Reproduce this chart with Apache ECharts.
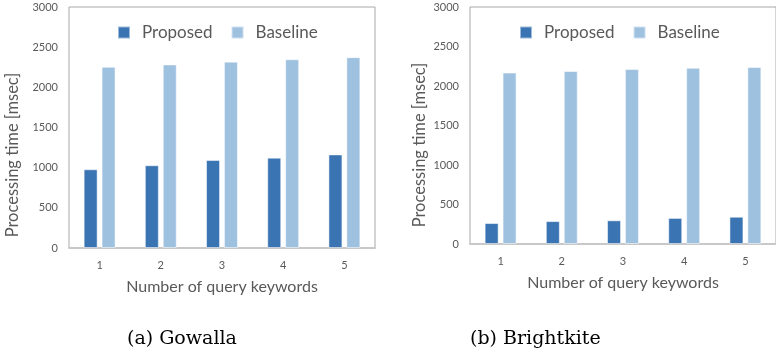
<!DOCTYPE html>
<html>
<head>
<meta charset="utf-8">
<script src="https://cdn.jsdelivr.net/npm/echarts@6/dist/echarts.min.js"></script>
<style>html,body{margin:0;padding:0;background:#fff;}#c{width:776px;height:362px;}</style>
</head>
<body>
<div id="c"></div>
<script>
var categories = ['1', '2', '3', '4', '5'];
var gowallaProposed = [980, 1030, 1095, 1125, 1165];
var gowallaBaseline = [2255, 2285, 2320, 2350, 2375];
var brightkiteProposed = [265, 290, 300, 330, 345];
var brightkiteBaseline = [2170, 2190, 2215, 2230, 2240];
var yTicks = [0, 500, 1000, 1500, 2000, 2500, 3000];
var seriesNames = ['Proposed', 'Baseline'];
var captions = ['(a) Gowalla', '(b) Brightkite'];
var xTitle = 'Number of query keywords';
var yTitle = 'Processing time [msec]';

var FONT = 'Lato';
var TXT = '#595959';
var C1 = '#3a74b3';
var C2 = '#9fc1e0';

function xAx(gi) {
  return {
    type: 'category', gridIndex: gi, data: categories,
    axisLine: {show: true, lineStyle: {color: '#c8c8c8', width: 2}},
    axisTick: {show: false},
    axisLabel: {fontFamily: FONT, fontSize: 11, color: TXT, margin: 12},
    name: xTitle, nameLocation: 'middle', nameGap: 31,
    nameTextStyle: {fontFamily: FONT, fontSize: 16, color: TXT}
  };
}
function yAx(gi) {
  return {
    type: 'value', gridIndex: gi, min: yTicks[0], max: yTicks[yTicks.length - 1], interval: 500,
    axisLine: {show: false}, axisTick: {show: false}, splitLine: {show: false},
    axisLabel: {fontFamily: FONT, fontSize: 11, color: TXT, margin: 11,
      formatter: function (v) { return String(v); }}
  };
}
function bar(name, data, gi, color) {
  return {
    name: name, type: 'bar', xAxisIndex: gi, yAxisIndex: gi, data: data,
    barWidth: 14, barGap: '28%',
    itemStyle: {color: color, borderColor: 'rgba(255,255,255,0.5)', borderWidth: 1},
    emphasis: {disabled: true}
  };
}
function legend(left) {
  return {
    data: seriesNames, left: left, top: 24, padding: 0, itemWidth: 12, itemHeight: 12, itemGap: 18,
    icon: 'rect',
    textStyle: {fontFamily: FONT, fontSize: 17, color: TXT, padding: [0, 0, 0, 7]}
  };
}
var chart = echarts.init(document.getElementById('c'), null, {renderer: 'canvas'});
chart.setOption({
  animation: false,
  backgroundColor: '#fff',
  color: [C1, C2],
  grid: [
    {left: 69, top: 7, width: 306, height: 241, show: true, borderColor: '#a8a8a8', borderWidth: 1, containLabel: false},
    {left: 470, top: 7, width: 306, height: 237, show: true, borderColor: '#a8a8a8', borderWidth: 1, containLabel: false}
  ],
  legend: [legend(117), legend(519)],
  xAxis: [xAx(0), xAx(1)],
  yAxis: [yAx(0), yAx(1)],
  series: [
    bar(seriesNames[0], gowallaProposed, 0, C1),
    bar(seriesNames[1], gowallaBaseline, 0, C2),
    bar(seriesNames[0], brightkiteProposed, 1, C1),
    bar(seriesNames[1], brightkiteBaseline, 1, C2)
  ],
  graphic: [
    {type: 'text', x: 13, y: 155, rotation: Math.PI / 2,
     style: {text: yTitle, fontFamily: FONT, fontSize: 16.5, fill: TXT, align: 'center', verticalAlign: 'middle'}},
    {type: 'text', x: 420, y: 145, rotation: Math.PI / 2,
     style: {text: yTitle, fontFamily: FONT, fontSize: 16.5, fill: TXT, align: 'center', verticalAlign: 'middle'}},
    {type: 'text', x: 127, y: 339,
     style: {text: captions[0], fontFamily: 'DejaVu Serif', fontSize: 19, fill: '#000', align: 'left', verticalAlign: 'middle'}},
    {type: 'text', x: 470, y: 339,
     style: {text: captions[1], fontFamily: 'DejaVu Serif', fontSize: 19, fill: '#000', align: 'left', verticalAlign: 'middle'}}
  ]
});
</script>
</body>
</html>
